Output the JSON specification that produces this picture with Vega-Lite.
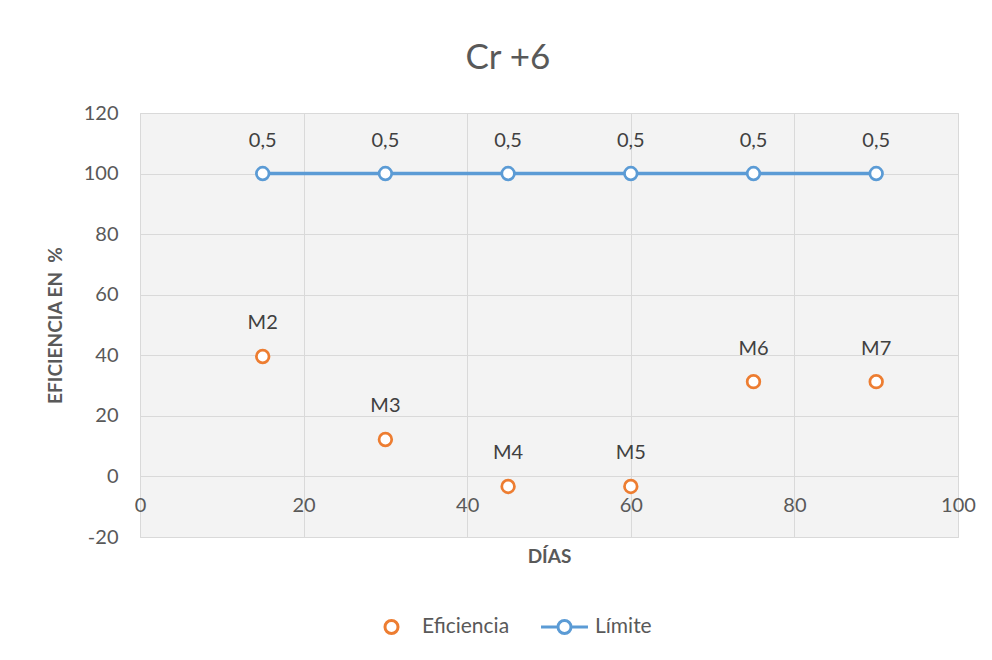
{
  "$schema": "https://vega.github.io/schema/vega-lite/v6.json",
  "width": 818,
  "height": 424,
  "autosize": "none",
  "padding": {"left": 140, "top": 113, "right": 34, "bottom": 123},
  "background": "white",
  "title": {
    "text": "Cr +6",
    "anchor": "middle",
    "frame": "group",
    "dx": -41,
    "offset": 27,
    "font": "Lato",
    "fontSize": 35,
    "fontWeight": "normal",
    "color": "#595959"
  },
  "config": {
    "view": {"stroke": "#d9d9d9", "fill": "#f3f3f3"},
    "font": "Lato"
  },
  "data": {
    "values": [
      {"dias": 15, "valor": 39.6, "serie": "Eficiencia", "etiqueta": "M2"},
      {"dias": 30, "valor": 12.2, "serie": "Eficiencia", "etiqueta": "M3"},
      {"dias": 45, "valor": -3.3, "serie": "Eficiencia", "etiqueta": "M4"},
      {"dias": 60, "valor": -3.3, "serie": "Eficiencia", "etiqueta": "M5"},
      {"dias": 75, "valor": 31.3, "serie": "Eficiencia", "etiqueta": "M6"},
      {"dias": 90, "valor": 31.3, "serie": "Eficiencia", "etiqueta": "M7"},
      {"dias": 15, "valor": 100, "serie": "Límite", "etiqueta": "0,5"},
      {"dias": 30, "valor": 100, "serie": "Límite", "etiqueta": "0,5"},
      {"dias": 45, "valor": 100, "serie": "Límite", "etiqueta": "0,5"},
      {"dias": 60, "valor": 100, "serie": "Límite", "etiqueta": "0,5"},
      {"dias": 75, "valor": 100, "serie": "Límite", "etiqueta": "0,5"},
      {"dias": 90, "valor": 100, "serie": "Límite", "etiqueta": "0,5"}
    ]
  },
  "encoding": {
    "x": {
      "field": "dias",
      "type": "quantitative",
      "scale": {"domain": [0, 100], "nice": false},
      "axis": {
        "title": "DÍAS",
        "values": [0, 20, 40, 60, 80, 100],
        "offset": -60.6,
        "domain": false,
        "ticks": false,
        "grid": true,
        "gridColor": "#d9d9d9",
        "gridWidth": 1,
        "labelFont": "Lato",
        "labelFontSize": 20,
        "labelColor": "#595959",
        "labelPadding": 19,
        "labelFlush": false,
        "titleFont": "Lato",
        "titleFontSize": 19,
        "titleFontWeight": "bold",
        "titleColor": "#595959",
        "titlePadding": 32
      }
    },
    "y": {
      "field": "valor",
      "type": "quantitative",
      "scale": {"domain": [-20, 120], "nice": false, "zero": false},
      "axis": {
        "title": "EFICIENCIA EN\u00a0 %",
        "values": [-20, 0, 20, 40, 60, 80, 100, 120],
        "labelExpr": "replace(datum.label, '\u2212', '-')",
        "domain": false,
        "ticks": false,
        "grid": true,
        "gridColor": "#d9d9d9",
        "gridWidth": 1,
        "labelFont": "Lato",
        "labelFontSize": 20,
        "labelColor": "#595959",
        "labelPadding": 22,
        "titleFont": "Lato",
        "titleFontSize": 19,
        "titleFontWeight": "bold",
        "titleColor": "#595959",
        "titlePadding": 18
      }
    }
  },
  "layer": [
    {
      "transform": [{"filter": "datum.serie === 'Límite'"}],
      "mark": {"type": "line", "strokeWidth": 3.5},
      "encoding": {
        "stroke": {
          "field": "serie",
          "type": "nominal",
          "scale": {"domain": ["Eficiencia", "Límite"], "range": ["#ED7D31", "#5B9BD5"]},
          "legend": {
            "title": null,
            "orient": "none",
            "direction": "horizontal",
            "legendX": 241,
            "legendY": 503,
            "labelFont": "Lato",
            "labelFontSize": 21,
            "labelColor": "#595959",
            "labelOffset": 20,
            "columnPadding": 25,
            "symbolSize": 170,
            "symbolStrokeWidth": 3,
            "encode": {
              "symbols": {
                "update": {
                  "shape": {"signal": "datum.value === 'Límite' ? 'M-3.6,0H-1M1,0H3.6M1,0A1,1 0 1,1 -1,0A1,1 0 1,1 1,0Z' : 'circle'"},
                  "fill": {"value": "white"},
                  "strokeDash": {"value": []},
                  "strokeWidth": {"value": 3}
                }
              }
            }
          }
        }
      }
    },
    {
      "mark": {"type": "point", "shape": "circle", "filled": true, "fill": "white", "size": 160, "strokeWidth": 2.75, "opacity": 1},
      "encoding": {
        "stroke": {
          "field": "serie",
          "type": "nominal",
          "scale": {"domain": ["Eficiencia", "Límite"], "range": ["#ED7D31", "#5B9BD5"]},
          "legend": {
            "title": null,
            "orient": "none",
            "direction": "horizontal",
            "legendX": 241,
            "legendY": 503,
            "labelFont": "Lato",
            "labelFontSize": 21,
            "labelColor": "#595959",
            "labelOffset": 20,
            "columnPadding": 25,
            "symbolSize": 170,
            "symbolStrokeWidth": 3,
            "encode": {
              "symbols": {
                "update": {
                  "shape": {"signal": "datum.value === 'Límite' ? 'M-3.6,0H-1M1,0H3.6M1,0A1,1 0 1,1 -1,0A1,1 0 1,1 1,0Z' : 'circle'"},
                  "fill": {"value": "white"},
                  "strokeDash": {"value": []},
                  "strokeWidth": {"value": 3}
                }
              }
            }
          }
        }
      }
    },
    {
      "mark": {"type": "text", "baseline": "middle", "align": "center", "dy": -33, "font": "Lato", "fontSize": 20, "color": "#404040"},
      "encoding": {
        "text": {"field": "etiqueta", "type": "nominal"}
      }
    }
  ]
}
